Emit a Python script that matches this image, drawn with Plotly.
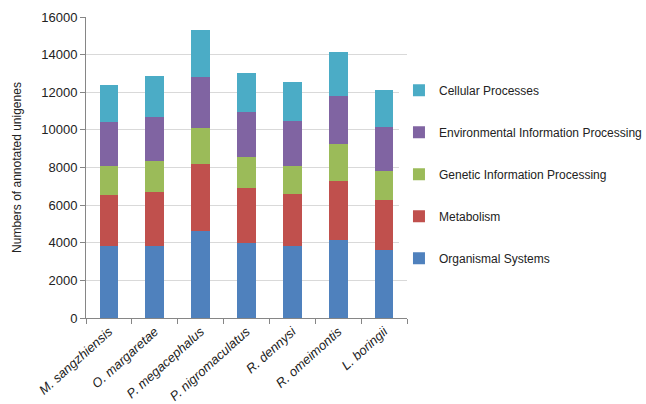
import plotly.graph_objects as go

species = ["M. sangzhiensis", "O. margaretae", "P. megacephalus", "P. nigromaculatus",
           "R. dennysi", "R. omeimontis", "L. boringii"]

organismal = [3840, 3850, 4650, 4000, 3820, 4160, 3590]
metabolism = [2680, 2860, 3520, 2930, 2770, 3140, 2680]
genetic = [1560, 1660, 1920, 1610, 1490, 1950, 1530]
environmental = [2330, 2340, 2720, 2400, 2380, 2530, 2360]
cellular = [1950, 2170, 2480, 2110, 2080, 2380, 1950]

series = [
    ("Organismal Systems", organismal, "#4F81BD"),
    ("Metabolism", metabolism, "#C0504D"),
    ("Genetic Information Processing", genetic, "#9BBB59"),
    ("Environmental Information Processing", environmental, "#8064A2"),
    ("Cellular Processes", cellular, "#4BACC6"),
]

y_ticks = [0, 2000, 4000, 6000, 8000, 10000, 12000, 14000, 16000]

fig = go.Figure()
n = len(series)
for i, (name, vals, color) in enumerate(series):
    fig.add_trace(go.Bar(name=name, x=species, y=vals, marker_color=color,
                         marker_line_width=0, legendgroup=name,
                         legendrank=n - i))

font_family = "Liberation Sans, Arial, sans-serif"
fig.update_layout(
    width=646, height=404,
    barmode="stack", bargap=0.59,
    margin=dict(l=86, r=239, t=17, b=86, autoexpand=False),
    paper_bgcolor="white", plot_bgcolor="white",
    font=dict(family=font_family, size=12, color="#222"),
    legend=dict(x=0.975, xanchor="left", y=0.805, yanchor="top",
                traceorder="grouped", tracegroupgap=23,
                font=dict(size=12, color="#222"), itemwidth=30),
    xaxis=dict(showline=True, linecolor="#868686", linewidth=1,
               ticks="outside", tickcolor="#868686", ticklen=5,
               tickson="boundaries", tickangle=-42, automargin=False,
               tickfont=dict(size=13, style="italic", color="#222")),
    yaxis=dict(range=[0, 16000], tickvals=y_ticks, tickformat="d",
               showline=True, automargin=False,
               linecolor="#868686", linewidth=1, ticks="outside",
               tickcolor="#868686", ticklen=5, showgrid=True,
               gridcolor="#D9D9D9", gridwidth=1,
               tickfont=dict(size=13, color="#222"),
               title=dict(text="Numbers of annotated unigenes",
                          font=dict(size=12, color="#222"), standoff=17)),
)

fig.write_html("out.html")
